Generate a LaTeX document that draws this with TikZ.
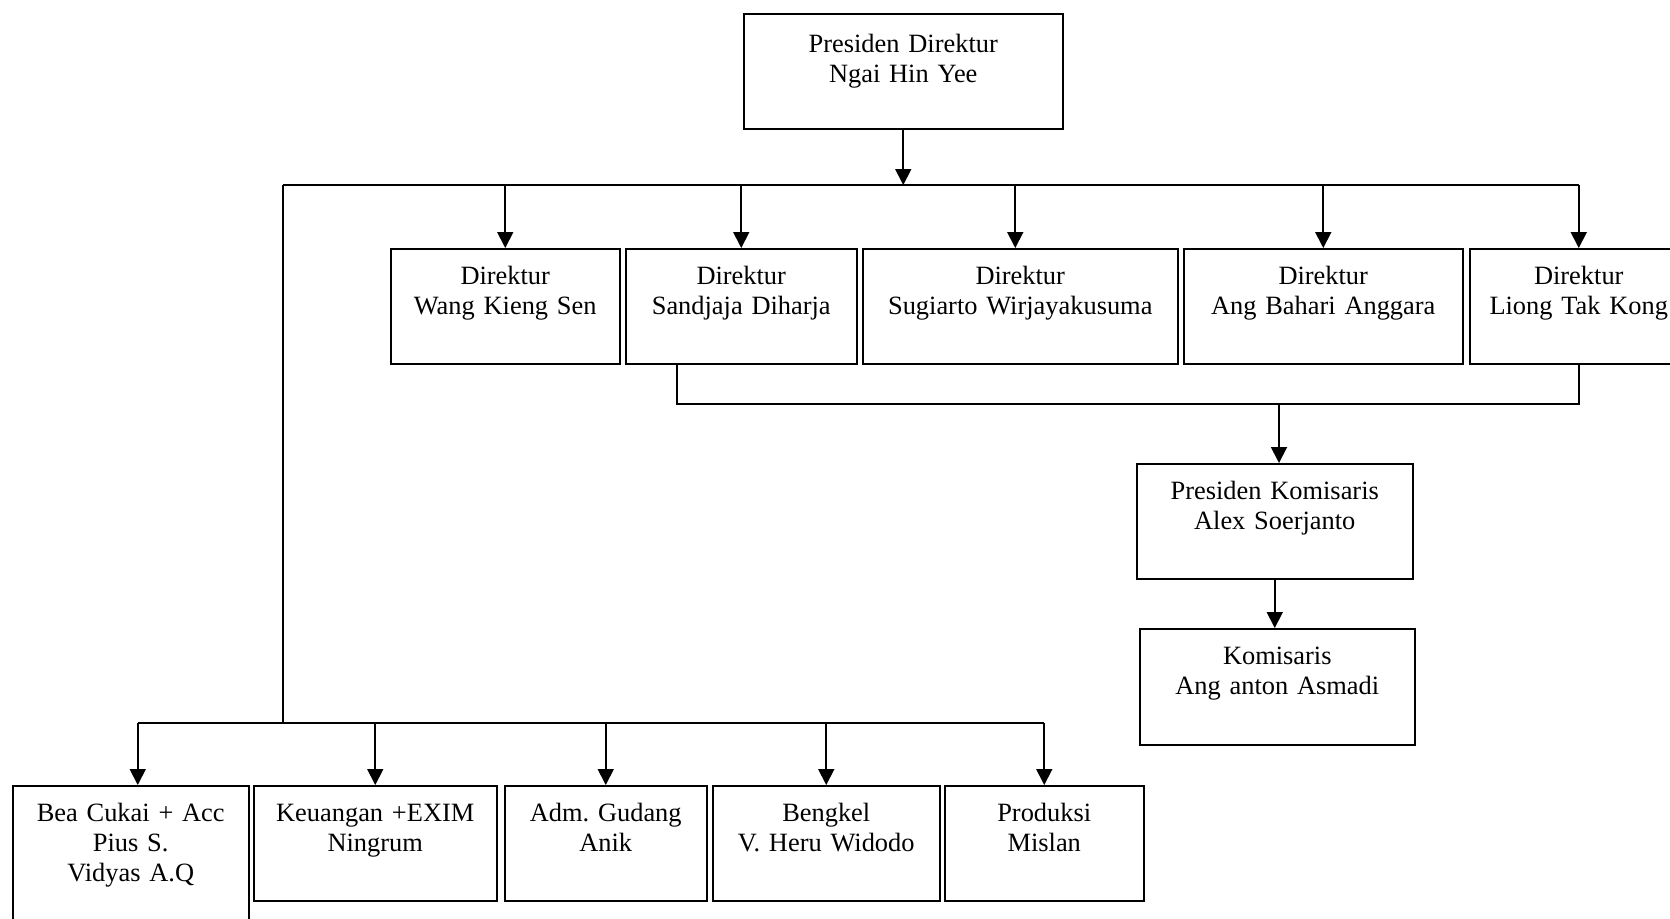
\documentclass[tikz,border=0pt]{standalone}
\usepackage{fontspec}
\setmainfont{Liberation Serif}
\usetikzlibrary{arrows.meta}
\newcommand\orgfont{\fontsize{13.2}{15}\selectfont\frenchspacing}

\begin{document}
\begin{tikzpicture}[x=0.5pt,y=-0.5pt,>={Triangle[width=8pt,length=8pt]},
  orgbox/.style={draw,line width=0.75pt,inner sep=0pt,anchor=north west,align=center,
    text height=18pt,text depth=39.5pt,font=\orgfont},
  link/.style={line width=0.9pt}]

\useasboundingbox (0,0) rectangle (1670,918);
\clip (0,0) rectangle (1670,918);

% top
\node[orgbox,text width=159.5pt,text height=19.5pt,text depth=38pt] (presdir) at (743,13) {Presiden Direktur\\Ngai Hin Yee};

% direktur row
\node[orgbox,text width=114.5pt] (wang) at (390,248) {Direktur\\Wang Kieng Sen};
\node[orgbox,text width=115.5pt] (sandjaja) at (625,248) {Direktur\\Sandjaja Diharja};
\node[orgbox,text width=157.5pt] (sugiarto) at (862,248) {Direktur\\Sugiarto Wirjayakusuma};
\node[orgbox,text width=139.5pt] (bahari) at (1183,248) {Direktur\\Ang Bahari Anggara};
\node[orgbox,text width=109pt] (liong) at (1469,248) {Direktur\\Liong Tak Kong};

% komisaris
\node[orgbox,text width=138pt] (preskom) at (1136,463) {Presiden Komisaris\\Alex Soerjanto};
\node[orgbox,text width=137.5pt,text depth=40pt] (komisaris) at (1139,628) {Komisaris\\Ang anton Asmadi};

% bagian row
\node[orgbox,text width=118pt,text depth=57pt] (beacukai) at (12,785) {Bea Cukai + Acc\\Pius S.\\Vidyas A.Q};
\node[orgbox,text width=121.5pt] (keuangan) at (253,785) {Keuangan +EXIM\\Ningrum};
\node[orgbox,text width=101pt] (gudang) at (504,785) {Adm. Gudang\\Anik};
\node[orgbox,text width=113.5pt] (bengkel) at (712,785) {Bengkel\\V. Heru Widodo};
\node[orgbox,text width=99.5pt] (produksi) at (944,785) {Produksi\\Mislan};

\coordinate (bt) at (283,185);
\coordinate (bb) at (283,723);
\coordinate (kb) at (1279,404);
\coordinate (beatop) at ([xshift=3.5pt]beacukai.north);
\coordinate (sugtop) at ([xshift=-2.5pt]sugiarto.north);

\draw[link,->](presdir.south)--(presdir.south |- bt);
\draw[link](bt)--(bt -| liong.north);
\foreach \n in {wang.north,sandjaja.north,sugtop,bahari.north,liong.north}
  \draw[link,->](bt -| \n)--(\n);

\draw[link](bt)--(bb);
\draw[link](bb -| beatop)--(bb -| produksi.north);
\foreach \n in {beatop,keuangan.north,gudang.north,bengkel.north,produksi.north}
  \draw[link,->](bb -| \n)--(\n);

\draw[link]([xshift=-32pt]sandjaja.south)|-(liong.south |- kb)--(liong.south);
\draw[link,->](kb)--(kb |- preskom.north);
\draw[link,->](preskom.south)--(preskom.south |- komisaris.north);

\end{tikzpicture}
\end{document}
